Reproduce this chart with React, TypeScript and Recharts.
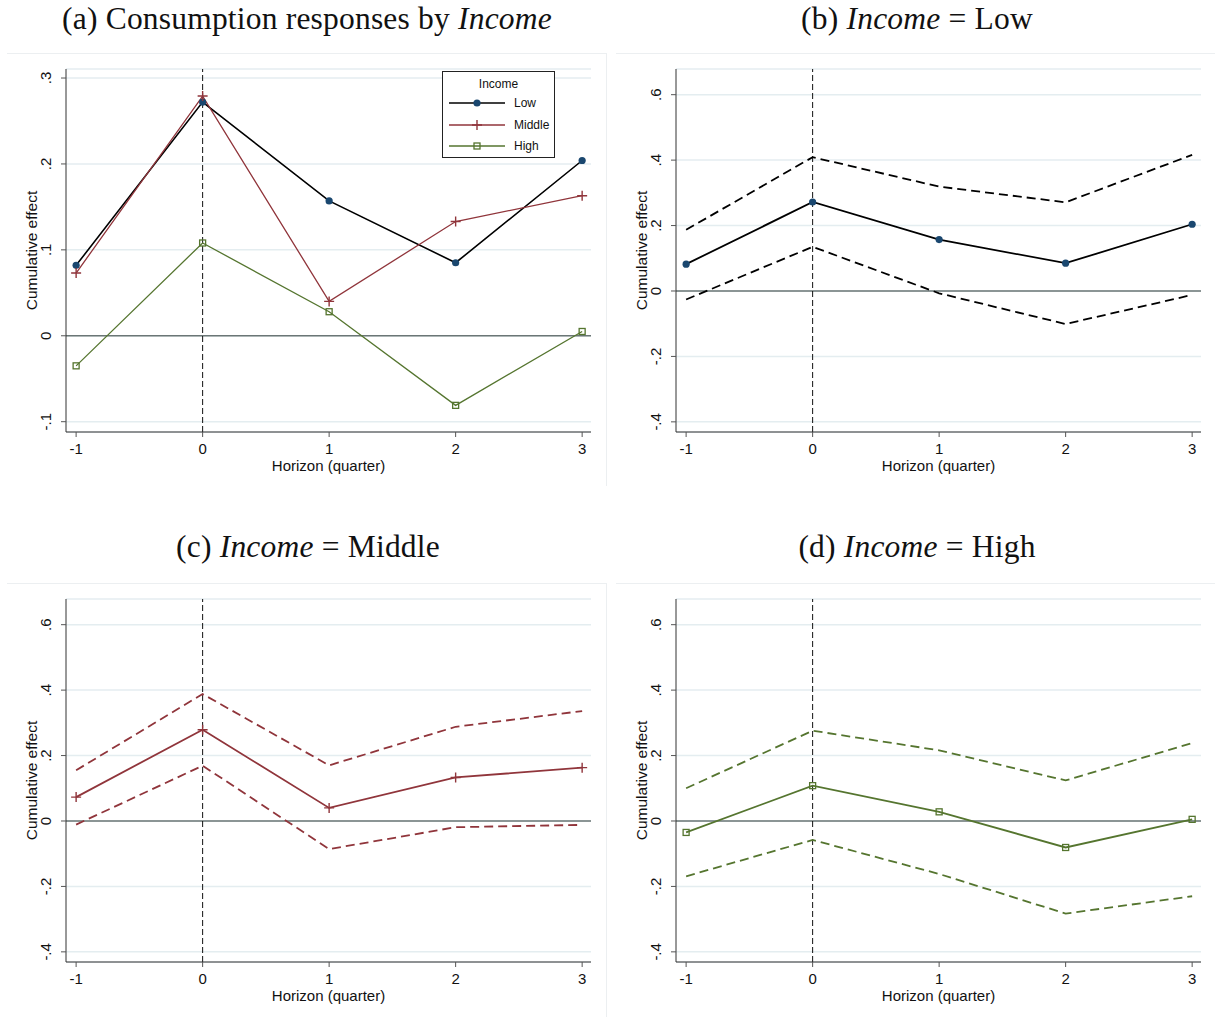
import React from 'react'
import { LineChart, Line, XAxis, YAxis, CartesianGrid, ReferenceLine, Legend } from 'recharts'

// horizon (quarters) and the estimated cumulative effects with 95% bands
const horizons = [-1, 0, 1, 2, 3]
const lowEst = [0.082, 0.272, 0.157, 0.085, 0.204]
const lowUpper = [0.187, 0.409, 0.319, 0.271, 0.416]
const lowLower = [-0.026, 0.135, -0.007, -0.101, -0.012]
const middleEst = [0.073, 0.279, 0.040, 0.133, 0.163]
const middleUpper = [0.155, 0.388, 0.170, 0.288, 0.336]
const middleLower = [-0.011, 0.169, -0.086, -0.019, -0.012]
const highEst = [-0.035, 0.108, 0.028, -0.081, 0.005]
const highUpper = [0.100, 0.276, 0.216, 0.124, 0.238]
const highLower = [-0.169, -0.058, -0.162, -0.283, -0.230]

const yTicksCompare = [-0.1, 0, 0.1, 0.2, 0.3]
const yTicksSingle = [-0.4, -0.2, 0, 0.2, 0.4, 0.6]

const rows = horizons.map((h, i) => ({
  h,
  low: lowEst[i], lowHi: lowUpper[i], lowLo: lowLower[i],
  middle: middleEst[i], middleHi: middleUpper[i], middleLo: middleLower[i],
  high: highEst[i], highHi: highUpper[i], highLo: highLower[i],
}))

const NAVY = '#1a476f'
const MAROON = '#90353b'
const GREEN = '#55752f'
const SANS = '"Liberation Sans", Arial, sans-serif'
const SERIF = '"Liberation Serif", "Times New Roman", serif'

const fmtY = (v: number) => (v === 0 ? '0' : (v < 0 ? '-' : '') + String(Math.abs(v)).replace(/^0/, ''))

function Marker({ kind, cx, cy, color }: any) {
  if (cx == null || cy == null) return null
  if (kind === 'circle') return <circle cx={cx} cy={cy} r={3.6} fill={color} />
  if (kind === 'plus')
    return <path d={`M${cx - 5},${cy}H${cx + 5}M${cx},${cy - 5}V${cy + 5}`} stroke={color} strokeWidth={1.4} fill="none" />
  if (kind === 'square')
    return <rect x={cx - 3} y={cy - 3} width={6} height={6} fill="none" stroke={color} strokeWidth={1.3} />
  return null
}

const YTick = ({ x, y, payload }: any) => (
  <text x={x - 8} y={y} transform={`rotate(-90 ${x - 8} ${y})`} textAnchor="middle"
    fontSize={15} fontFamily={SANS} fill="#111">{fmtY(payload.value)}</text>
)

const XTick = ({ x, y, payload }: any) => (
  <text x={x} y={y + 15} textAnchor="middle" fontSize={15} fontFamily={SANS} fill="#111">{payload.value}</text>
)

type Series = { key: string; name?: string; color: string; width: number; dash?: string; marker?: string; markerColor?: string }

const compareSeries: Series[] = [
  { key: 'low', name: 'Low', color: '#000', width: 1.6, marker: 'circle', markerColor: NAVY },
  { key: 'middle', name: 'Middle', color: MAROON, width: 1.3, marker: 'plus', markerColor: MAROON },
  { key: 'high', name: 'High', color: GREEN, width: 1.3, marker: 'square', markerColor: GREEN },
]

const bandSeries = (key: string, color: string, marker: string, markerColor: string): Series[] => [
  { key: key + 'Hi', color, width: 1.8, dash: '9 5' },
  { key: key + 'Lo', color, width: 1.8, dash: '9 5' },
  { key, color, width: 1.8, marker, markerColor },
]

function LegendBox({ payload }: any) {
  const entries = compareSeries.map((s) => {
    const hit = (payload || []).find((p: any) => p.dataKey === s.key)
    return { ...s, label: hit ? hit.value : s.name }
  })
  return (
    <div style={{ position: 'relative', width: 113, height: 87, boxSizing: 'border-box', border: '1px solid #222', background: '#fff', fontFamily: SANS, fontSize: 12, color: '#111' }}>
      <div style={{ position: 'absolute', left: 0, width: 111, top: 5, textAlign: 'center' }}>Income</div>
      {entries.map((s, i) => (
        <div key={s.key} style={{ position: 'absolute', left: 5, top: 23 + i * 21.5, height: 16, display: 'flex', alignItems: 'center' }}>
          <svg width={58} height={16}>
            <line x1={1} x2={57} y1={8} y2={8} stroke={s.color} strokeWidth={s.width} />
            <Marker kind={s.marker} cx={29} cy={8} color={s.markerColor} />
          </svg>
          <span style={{ marginLeft: 8 }}>{s.label}</span>
        </div>
      ))}
    </div>
  )
}

function Panel({ left, top, series, yDomain, yTicks, legend }: any) {
  return (
    <div style={{ position: 'absolute', left, top }}>
      <LineChart width={605} height={450} data={rows} margin={{ top: 29, right: 14, left: 0, bottom: 0 }}>
        <CartesianGrid vertical={false} stroke="#e4edf0" strokeWidth={1.5} />
        <XAxis dataKey="h" type="number" domain={[-1.08, 3.07]} ticks={horizons} height={58}
          stroke="#333" tickSize={5} tickLine={{ stroke: '#555' }} tick={<XTick />} interval={0}
          label={{ content: ({ viewBox }: any) => (
            <text x={viewBox.x + viewBox.width / 2} y={viewBox.y + 38.5} textAnchor="middle" fontSize={15} fontFamily={SANS} fill="#111">Horizon (quarter)</text>
          ) }} />
        <YAxis type="number" domain={yDomain} ticks={yTicks} width={66} allowDataOverflow
          stroke="#333" tickSize={5} tickLine={{ stroke: '#555' }} tick={<YTick />} interval={0}
          label={{ content: ({ viewBox }: any) => {
            const x = viewBox.x + viewBox.width - 29
            const y = viewBox.y + viewBox.height / 2
            return <text x={x} y={y} transform={`rotate(-90 ${x} ${y})`} textAnchor="middle" fontSize={15.5} fontFamily={SANS} fill="#111">Cumulative effect</text>
          } }} />
        <ReferenceLine y={0} stroke="#6b7676" strokeWidth={1.3} />
        <ReferenceLine x={0} stroke="#111" strokeWidth={1} strokeDasharray="6 3" />
        {series.map((s: Series) => (
          <Line key={s.key} dataKey={s.key} name={s.name} type="linear" stroke={s.color} strokeWidth={s.width}
            strokeDasharray={s.dash} isAnimationActive={false} legendType={s.name ? 'line' : 'none'}
            dot={s.marker ? (p: any) => <Marker key={`${s.key}-${p.index}`} kind={s.marker} cx={p.cx} cy={p.cy} color={s.markerColor} /> : false}
            activeDot={false} />
        ))}
        {legend && (
          <Legend layout="horizontal" verticalAlign="middle" align="center" content={<LegendBox />}
            wrapperStyle={{ left: 442, top: 31, width: 113, height: 87 }} />
        )}
      </LineChart>
    </div>
  )
}

const titleStyle = (cx: number, top: number): React.CSSProperties => ({
  position: 'absolute', left: cx - 300, width: 600, top, textAlign: 'center',
  fontFamily: SERIF, fontSize: 31.5, lineHeight: '31px', letterSpacing: 0.2, color: '#111', whiteSpace: 'nowrap',
})

const frame = (left: number, top: number, width: number, height: number): React.CSSProperties => ({
  position: 'absolute', left, top, width, height, borderTop: '1px solid #eceff1', borderRight: '1px solid #eceff1',
})

export default function App() {
  return (
    <div style={{ position: 'absolute', left: 0, top: 0, width: 1215, height: 1017, background: '#fff', overflow: 'hidden' }}>
      <div style={frame(7, 53, 599, 432)} />
      <div style={frame(616, 53, 610, 432)} />
      <div style={frame(7, 583, 599, 440)} />
      <div style={frame(616, 583, 610, 440)} />
      <div style={titleStyle(307, 2.5)}>(a) Consumption responses by <i>Income</i></div>
      <div style={titleStyle(917, 2.5)}>(b) <i>Income</i> = Low</div>
      <div style={titleStyle(308, 531)}>(c) <i>Income</i> = Middle</div>
      <div style={titleStyle(917, 531)}>(d) <i>Income</i> = High</div>
      <Panel left={0} top={40} series={compareSeries} yDomain={[-0.112, 0.3105]} yTicks={yTicksCompare} legend />
      <Panel left={610} top={40} series={bandSeries('low', '#000', 'circle', NAVY)} yDomain={[-0.431, 0.6785]} yTicks={yTicksSingle} />
      <Panel left={0} top={570} series={bandSeries('middle', MAROON, 'plus', MAROON)} yDomain={[-0.431, 0.6785]} yTicks={yTicksSingle} />
      <Panel left={610} top={570} series={bandSeries('high', GREEN, 'square', GREEN)} yDomain={[-0.431, 0.6785]} yTicks={yTicksSingle} />
    </div>
  )
}
